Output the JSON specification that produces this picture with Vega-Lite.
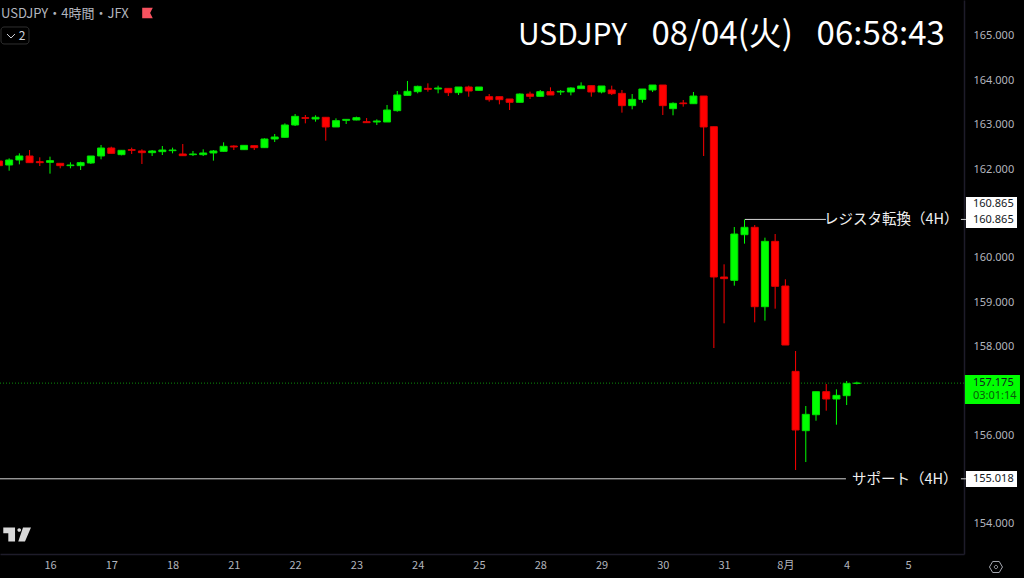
{
  "$schema": "https://vega.github.io/schema/vega-lite/v6.json",
  "width": 964,
  "height": 554,
  "autosize": {"type": "none"},
  "padding": {"left": 0, "top": 0, "right": 60, "bottom": 24},
  "background": "#000000",
  "config": {"view": {"stroke": null}, "text": {"font": "Noto Sans CJK JP"}},
  "datasets": {
    "candles": [
      {"i": -5, "open": 162.182, "high": 162.2, "low": 162.07, "close": 162.077},
      {"i": -4, "open": 162.092, "high": 162.242, "low": 161.964, "close": 162.205},
      {"i": -3, "open": 162.205, "high": 162.355, "low": 162.107, "close": 162.295},
      {"i": -2, "open": 162.295, "high": 162.43, "low": 162.145, "close": 162.145},
      {"i": -1, "open": 162.167, "high": 162.265, "low": 162.069, "close": 162.145},
      {"i": 0, "open": 162.152, "high": 162.28, "low": 161.897, "close": 162.19},
      {"i": 1, "open": 162.13, "high": 162.13, "low": 162.017, "close": 162.077},
      {"i": 2, "open": 162.077, "high": 162.152, "low": 162.017, "close": 162.092},
      {"i": 3, "open": 162.077, "high": 162.167, "low": 161.979, "close": 162.145},
      {"i": 4, "open": 162.137, "high": 162.295, "low": 162.115, "close": 162.295},
      {"i": 5, "open": 162.295, "high": 162.543, "low": 162.22, "close": 162.475},
      {"i": 6, "open": 162.475, "high": 162.505, "low": 162.355, "close": 162.355},
      {"i": 7, "open": 162.325, "high": 162.43, "low": 162.31, "close": 162.423},
      {"i": 8, "open": 162.438, "high": 162.483, "low": 162.34, "close": 162.423},
      {"i": 9, "open": 162.408, "high": 162.445, "low": 162.115, "close": 162.37},
      {"i": 10, "open": 162.37, "high": 162.43, "low": 162.295, "close": 162.408},
      {"i": 11, "open": 162.393, "high": 162.52, "low": 162.317, "close": 162.43},
      {"i": 12, "open": 162.415, "high": 162.483, "low": 162.355, "close": 162.43},
      {"i": 13, "open": 162.34, "high": 162.565, "low": 162.295, "close": 162.302},
      {"i": 14, "open": 162.325, "high": 162.408, "low": 162.295, "close": 162.34},
      {"i": 15, "open": 162.325, "high": 162.445, "low": 162.295, "close": 162.363},
      {"i": 16, "open": 162.363, "high": 162.43, "low": 162.19, "close": 162.408},
      {"i": 17, "open": 162.4, "high": 162.603, "low": 162.393, "close": 162.513},
      {"i": 18, "open": 162.52, "high": 162.535, "low": 162.43, "close": 162.498},
      {"i": 19, "open": 162.438, "high": 162.535, "low": 162.43, "close": 162.535},
      {"i": 20, "open": 162.528, "high": 162.528, "low": 162.43, "close": 162.483},
      {"i": 21, "open": 162.483, "high": 162.693, "low": 162.475, "close": 162.678},
      {"i": 22, "open": 162.678, "high": 162.791, "low": 162.61, "close": 162.723},
      {"i": 23, "open": 162.716, "high": 163.031, "low": 162.708, "close": 162.994},
      {"i": 24, "open": 162.994, "high": 163.242, "low": 162.971, "close": 163.189},
      {"i": 25, "open": 163.159, "high": 163.219, "low": 163.031, "close": 163.144},
      {"i": 26, "open": 163.129, "high": 163.212, "low": 163.069, "close": 163.167},
      {"i": 27, "open": 163.167, "high": 163.167, "low": 162.641, "close": 162.949},
      {"i": 28, "open": 162.949, "high": 163.144, "low": 162.949, "close": 163.091},
      {"i": 29, "open": 163.099, "high": 163.121, "low": 163.016, "close": 163.121},
      {"i": 30, "open": 163.106, "high": 163.182, "low": 163.099, "close": 163.159},
      {"i": 31, "open": 163.069, "high": 163.151, "low": 163.046, "close": 163.046},
      {"i": 32, "open": 163.061, "high": 163.121, "low": 162.994, "close": 163.084},
      {"i": 33, "open": 163.061, "high": 163.445, "low": 163.061, "close": 163.332},
      {"i": 34, "open": 163.317, "high": 163.76, "low": 163.294, "close": 163.67},
      {"i": 35, "open": 163.662, "high": 163.986, "low": 163.662, "close": 163.753},
      {"i": 36, "open": 163.745, "high": 163.88, "low": 163.708, "close": 163.865},
      {"i": 37, "open": 163.82, "high": 163.933, "low": 163.745, "close": 163.798},
      {"i": 38, "open": 163.805, "high": 163.88, "low": 163.708, "close": 163.828},
      {"i": 39, "open": 163.82, "high": 163.82, "low": 163.647, "close": 163.723},
      {"i": 40, "open": 163.723, "high": 163.85, "low": 163.67, "close": 163.85},
      {"i": 41, "open": 163.85, "high": 163.88, "low": 163.632, "close": 163.76},
      {"i": 42, "open": 163.775, "high": 163.85, "low": 163.768, "close": 163.85},
      {"i": 43, "open": 163.632, "high": 163.692, "low": 163.52, "close": 163.565},
      {"i": 44, "open": 163.632, "high": 163.632, "low": 163.46, "close": 163.565},
      {"i": 45, "open": 163.58, "high": 163.58, "low": 163.332, "close": 163.505},
      {"i": 46, "open": 163.505, "high": 163.707, "low": 163.497, "close": 163.692},
      {"i": 47, "open": 163.692, "high": 163.745, "low": 163.58, "close": 163.64},
      {"i": 48, "open": 163.64, "high": 163.783, "low": 163.632, "close": 163.745},
      {"i": 49, "open": 163.745, "high": 163.843, "low": 163.67, "close": 163.67},
      {"i": 50, "open": 163.738, "high": 163.783, "low": 163.67, "close": 163.753},
      {"i": 51, "open": 163.738, "high": 163.843, "low": 163.662, "close": 163.828},
      {"i": 52, "open": 163.813, "high": 163.955, "low": 163.805, "close": 163.873},
      {"i": 53, "open": 163.88, "high": 163.88, "low": 163.632, "close": 163.738},
      {"i": 54, "open": 163.738, "high": 163.873, "low": 163.708, "close": 163.873},
      {"i": 55, "open": 163.783, "high": 163.88, "low": 163.67, "close": 163.7},
      {"i": 56, "open": 163.707, "high": 163.783, "low": 163.272, "close": 163.43},
      {"i": 57, "open": 163.43, "high": 163.692, "low": 163.347, "close": 163.572},
      {"i": 58, "open": 163.572, "high": 163.805, "low": 163.497, "close": 163.805},
      {"i": 59, "open": 163.783, "high": 163.895, "low": 163.738, "close": 163.895},
      {"i": 60, "open": 163.895, "high": 163.895, "low": 163.219, "close": 163.43},
      {"i": 61, "open": 163.362, "high": 163.505, "low": 163.212, "close": 163.482},
      {"i": 62, "open": 163.49, "high": 163.557, "low": 163.407, "close": 163.474},
      {"i": 63, "open": 163.474, "high": 163.738, "low": 163.474, "close": 163.647},
      {"i": 64, "open": 163.647, "high": 163.647, "low": 162.295, "close": 162.949},
      {"i": 65, "open": 162.956, "high": 162.956, "low": 157.967, "close": 159.567},
      {"i": 66, "open": 159.567, "high": 159.853, "low": 158.523, "close": 159.53},
      {"i": 67, "open": 159.492, "high": 160.694, "low": 159.372, "close": 160.536},
      {"i": 68, "open": 160.521, "high": 160.865, "low": 160.319, "close": 160.687},
      {"i": 69, "open": 160.687, "high": 160.739, "low": 158.545, "close": 158.898},
      {"i": 70, "open": 158.898, "high": 160.454, "low": 158.583, "close": 160.371},
      {"i": 71, "open": 160.371, "high": 160.536, "low": 158.853, "close": 159.357},
      {"i": 72, "open": 159.364, "high": 159.515, "low": 158.034, "close": 158.034},
      {"i": 73, "open": 157.44, "high": 157.899, "low": 155.216, "close": 156.118},
      {"i": 74, "open": 156.103, "high": 156.659, "low": 155.396, "close": 156.471},
      {"i": 75, "open": 156.463, "high": 156.982, "low": 156.328, "close": 156.982},
      {"i": 76, "open": 156.982, "high": 157.155, "low": 156.554, "close": 156.817},
      {"i": 77, "open": 156.817, "high": 157.035, "low": 156.238, "close": 156.899},
      {"i": 78, "open": 156.892, "high": 157.222, "low": 156.681, "close": 157.17},
      {"i": 79, "open": 157.17, "high": 157.207, "low": 157.147, "close": 157.175}
    ]
  },
  "encoding": {
    "x": {
      "field": "i",
      "type": "quantitative",
      "scale": {"domain": [-4.895, 89.49], "nice": false, "zero": false, "padding": 0},
      "axis": {
        "title": null,
        "grid": false,
        "ticks": false,
        "values": [0, 6, 12, 18, 24, 30, 36, 42, 48, 54, 60, 66, 72, 78, 84],
        "labelExpr": "['16','17','18','21','22','23','24','25','28','29','30','31','8月','4','5'][datum.value/6]",
        "labelColor": "#b2b5be",
        "labelFont": "Noto Sans CJK JP",
        "labelFontSize": 11,
        "labelPadding": 5,
        "labelFlush": false,
        "domainColor": "#1e1c2a",
        "domainWidth": 1.5
      }
    },
    "y": {
      "field": "price",
      "type": "quantitative",
      "scale": {"domain": [153.323, 165.8115], "nice": false, "zero": false, "padding": 0},
      "axis": {
        "title": null,
        "orient": "right",
        "grid": false,
        "ticks": false,
        "values": [154, 156, 158, 159, 160, 162, 163, 164, 165],
        "format": ".3f",
        "labelColor": "#b2b5be",
        "labelFont": "Noto Sans",
        "labelFontSize": 11,
        "labelPadding": 9,
        "domainColor": "#1e1c2a",
        "domainWidth": 1.5
      }
    }
  },
  "layer": [
    {
      "data": {"values": [{"i": -4.895, "i2": 89.49, "price": 157.175}]},
      "mark": {"type": "rule", "color": "#0b8f0b", "strokeWidth": 1, "strokeDash": [1, 2]},
      "encoding": {"x2": {"field": "i2"}}
    },
    {
      "data": {"name": "candles"},
      "mark": {"type": "rule", "strokeWidth": 1, "clip": true},
      "encoding": {
        "y": {
          "field": "low",
          "type": "quantitative",
          "scale": {"domain": [153.323, 165.8115], "nice": false, "zero": false, "padding": 0},
          "axis": {"title": null, "orient": "right", "grid": false, "ticks": false, "values": [154, 156, 158, 159, 160, 162, 163, 164, 165], "format": ".3f", "labelColor": "#b2b5be", "labelFont": "Noto Sans", "labelFontSize": 11, "labelPadding": 9, "domainColor": "#1e1c2a", "domainWidth": 1.5}
        },
        "y2": {"field": "high"},
        "color": {"condition": {"test": "datum.close>=datum.open", "value": "#00ff00"}, "value": "#ff0000"}
      }
    },
    {
      "data": {"name": "candles"},
      "mark": {"type": "bar", "orient": "vertical", "size": 7, "strokeWidth": 1, "clip": true},
      "encoding": {
        "y": {
          "field": "open",
          "type": "quantitative",
          "scale": {"domain": [153.323, 165.8115], "nice": false, "zero": false, "padding": 0},
          "axis": {"title": null, "orient": "right", "grid": false, "ticks": false, "values": [154, 156, 158, 159, 160, 162, 163, 164, 165], "format": ".3f", "labelColor": "#b2b5be", "labelFont": "Noto Sans", "labelFontSize": 11, "labelPadding": 9, "domainColor": "#1e1c2a", "domainWidth": 1.5}
        },
        "y2": {"field": "close"},
        "fill": {"condition": {"test": "datum.close>=datum.open", "value": "#00ff00"}, "value": "#ff0000"},
        "stroke": {"condition": {"test": "datum.close>=datum.open", "value": "#00e000"}, "value": "#e00000"}
      }
    },
    {
      "data": {"values": [
        {"i": 68.05, "i2": 75.97, "price": 160.865},
        {"i": 89.19, "i2": 89.68, "price": 160.865},
        {"i": -4.895, "i2": 77.93, "price": 155.018},
        {"i": 89.19, "i2": 89.68, "price": 155.018}
      ]},
      "mark": {"type": "rule", "color": "#d4d4d4", "strokeWidth": 1},
      "encoding": {"x2": {"field": "i2"}}
    },
    {
      "data": {"values": [
        {"i": 89.68, "i2": 94.68, "price": 161.37, "price2": 160.672, "kind": "line"},
        {"i": 89.68, "i2": 94.68, "price": 155.194, "price2": 154.833, "kind": "line"},
        {"i": 89.58, "i2": 94.97, "price": 157.358, "price2": 156.704, "kind": "last"}
      ]},
      "mark": {"type": "rect"},
      "encoding": {
        "x2": {"field": "i2"},
        "y2": {"field": "price2"},
        "color": {"field": "kind", "type": "nominal", "scale": {"domain": ["line", "last"], "range": ["#ffffff", "#00ff00"]}, "legend": null}
      }
    },
    {
      "data": {"values": [
        {"i": 90.37, "price": 161.213, "label": "160.865"},
        {"i": 90.37, "price": 160.852, "label": "160.865"},
        {"i": 90.37, "price": 155.014, "label": "155.018"},
        {"i": 90.37, "price": 157.178, "label": "157.175"}
      ]},
      "mark": {"type": "text", "align": "left", "baseline": "middle", "font": "Noto Sans", "fontSize": 11, "color": "#131722"},
      "encoding": {"text": {"field": "label"}}
    },
    {
      "data": {"values": [{"i": 90.37, "price": 156.885, "label": "03:01:14"}]},
      "mark": {"type": "text", "align": "left", "baseline": "middle", "font": "Noto Sans", "fontSize": 11, "color": "#0a5c0a"},
      "encoding": {"text": {"field": "label"}}
    },
    {
      "data": {"values": [
        {"i": 75.78, "price": 160.852, "label": "レジスタ転換（4H）"},
        {"i": 78.52, "price": 155.0, "label": "サポート（4H）"}
      ]},
      "mark": {"type": "text", "align": "left", "baseline": "middle", "fontSize": 14.5, "color": "#f0f0f0"},
      "encoding": {"text": {"field": "label"}}
    },
    {
      "data": {"values": [{"i": 45.82, "price": 164.797, "label": "USDJPY"}]},
      "mark": {"type": "text", "align": "left", "baseline": "alphabetic", "fontSize": 30, "color": "#ffffff"},
      "encoding": {"text": {"field": "label"}}
    },
    {
      "data": {"values": [
        {"i": 58.89, "price": 164.797, "label": "08/04(火)"},
        {"i": 75.06, "price": 164.797, "label": "06:58:43"}
      ]},
      "mark": {"type": "text", "align": "left", "baseline": "alphabetic", "fontSize": 33, "color": "#ffffff"},
      "encoding": {"text": {"field": "label"}}
    },
    {
      "data": {"values": [{"i": -4.8, "price": 165.406, "label": "USDJPY・4時間・JFX"}]},
      "mark": {"type": "text", "align": "left", "baseline": "alphabetic", "fontSize": 13, "color": "#b2b5be"},
      "encoding": {"text": {"field": "label"}}
    },
    {
      "data": {"values": [{"i": -4.797, "i2": -2.056, "price": 165.203, "price2": 164.82}]},
      "mark": {"type": "rect", "fillOpacity": 0, "stroke": "#2f2f2f", "strokeWidth": 1, "cornerRadius": 3},
      "encoding": {"x2": {"field": "i2"}, "y2": {"field": "price2"}}
    },
    {
      "data": {"values": [{"i": -2.74, "price": 164.999, "label": "2"}]},
      "mark": {"type": "text", "align": "center", "baseline": "middle", "fontSize": 12, "color": "#d1d4dc"},
      "encoding": {"text": {"field": "label"}}
    },
    {
      "data": {"values": [{"i": -3.82, "price": 165.0}]},
      "mark": {"type": "point", "shape": "M-1 -0.5 L0 0.5 L1 -0.5", "size": 64, "filled": false, "stroke": "#d1d4dc", "strokeWidth": 1, "opacity": 1},
      "encoding": {}
    },
    {
      "data": {"values": [{"i": 9.546, "price": 165.518}]},
      "mark": {"type": "point", "shape": "M-1 -1 H1 L0.5 0 L1 1 H-1 Z", "size": 112, "filled": true, "fill": "#f7525f", "opacity": 1},
      "encoding": {}
    },
    {
      "data": {"values": [{"i": -3.231, "price": 153.762}]},
      "mark": {"type": "point", "shape": "M-0.98 -0.5 H-0.14 V0.5 H-0.62 V-0.1 H-0.98 Z M0.03 -0.32 A0.13 0.13 0 1 1 0.29 -0.32 A0.13 0.13 0 1 1 0.03 -0.32 Z M0.43 -0.5 H1 L0.57 0.5 H0.09 Z", "size": 784, "filled": true, "fill": "#d8d8d8", "opacity": 1},
      "encoding": {}
    },
    {
      "data": {"values": [{"i": 92.62, "price": 153.03}]},
      "mark": {"type": "point", "shape": "M-1 0 L-0.5 -0.85 H0.5 L1 0 L0.5 0.85 H-0.5 Z M-0.25 0 A0.25 0.25 0 1 1 0.25 0 A0.25 0.25 0 1 1 -0.25 0 Z", "size": 169, "filled": false, "stroke": "#a6a9b2", "strokeWidth": 1, "opacity": 1},
      "encoding": {}
    }
  ]
}
